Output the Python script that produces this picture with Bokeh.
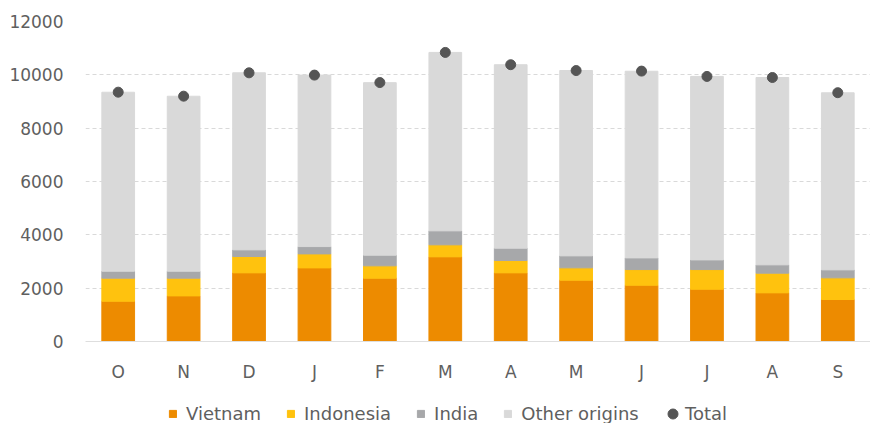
from bokeh.plotting import figure
from bokeh.layouts import column
from bokeh.models import ColumnDataSource, Range1d, FixedTicker, Legend, LegendItem
from bokeh.embed import file_html
from bokeh.resources import INLINE

months = ["O", "N", "D", "J", "F", "M", "A", "M", "J", "J", "A", "S"]
vietnam = [1510, 1710, 2575, 2760, 2375, 3175, 2575, 2300, 2110, 1960, 1825, 1575]
indonesia = [865, 665, 612, 525, 462, 450, 462, 462, 588, 738, 737, 812]
india = [262, 262, 250, 275, 400, 525, 463, 450, 437, 362, 313, 300]
other = [6710, 6560, 6640, 6430, 6470, 6690, 6880, 6950, 7000, 6880, 7025, 6640]
total = [9350, 9200, 10075, 9990, 9710, 10840, 10380, 10160, 10140, 9940, 9900, 9330]
y_ticks = [0, 2000, 4000, 6000, 8000, 10000, 12000]

series = ["vietnam", "indonesia", "india", "other"]
labels = ["Vietnam", "Indonesia", "India", "Other origins"]
colors = ["#ED8B00", "#FFC20E", "#A7A8AA", "#D9D9D9"]
dot_color = "#555555"
FONT = "DejaVu Sans"
TXT = "#5f5f5f"

xs = list(range(len(months)))
src = ColumnDataSource(dict(x=xs, vietnam=vietnam, indonesia=indonesia, india=india,
                            other=other, total=total))

p = figure(width=870, height=390, x_range=Range1d(-0.5, len(months) - 0.5),
           y_range=Range1d(0, 12000), output_backend="svg", toolbar_location=None,
           min_border_left=85, min_border_right=0, min_border_top=21, min_border_bottom=49)

bars = p.vbar_stack(series, x="x", width=0.5, color=colors, source=src)
dots = p.scatter(x="x", y="total", size=10, color=dot_color, source=src)

p.outline_line_color = None
p.xgrid.grid_line_color = None
p.ygrid.grid_line_color = "#d9d9d9"
p.ygrid.grid_line_dash = "4 3"
p.ygrid.ticker = FixedTicker(ticks=y_ticks)

p.xaxis.ticker = FixedTicker(ticks=xs)
p.xaxis.major_label_overrides = {i: m for i, m in enumerate(months)}
p.xaxis.major_tick_line_color = None
p.xaxis.minor_tick_line_color = None
p.xaxis.axis_line_color = "#dedede"
p.xaxis.major_label_standoff = 14

p.yaxis.ticker = FixedTicker(ticks=y_ticks)
p.yaxis.major_tick_line_color = None
p.yaxis.minor_tick_line_color = None
p.yaxis.axis_line_color = None
p.yaxis.major_label_standoff = 16

for ax in (p.xaxis[0], p.yaxis[0]):
    ax.major_label_text_font = FONT
    ax.major_label_text_font_size = "17px"
    ax.major_label_text_color = TXT

# legend strip below the chart (its frame is aligned with the chart frame: x from 85 to 870)
lg = figure(width=870, height=33, x_range=Range1d(0, 1), y_range=Range1d(0, 1),
            output_backend="svg", toolbar_location=None, x_axis_type=None, y_axis_type=None,
            min_border=0, min_border_left=85, min_border_right=0, min_border_top=0,
            min_border_bottom=0)
lg.outline_line_color = None
lg.grid.visible = False
# stand-in renderers (kept outside the visible range) so the legend can draw its swatches
dummy_bars = [lg.vbar(x=[5], top=[5], bottom=[4], width=0.5, color=c) for c in colors]
dummy_dot = lg.scatter(x=[5], y=[5], size=10, color=dot_color)

leg1 = Legend(items=[LegendItem(label=l, renderers=[r]) for l, r in zip(labels, dummy_bars)],
              orientation="horizontal", location=(83, -1), glyph_width=9, glyph_height=9,
              label_standoff=9, spacing=25, padding=0, margin=0,
              border_line_color=None, background_fill_alpha=0,
              label_text_font=FONT, label_text_font_size="18px", label_text_color=TXT)
leg2 = Legend(items=[LegendItem(label="Total", renderers=[dummy_dot])],
              orientation="horizontal", location=(575, -3), glyph_width=25, glyph_height=25,
              label_standoff=-2, padding=0, margin=0,
              border_line_color=None, background_fill_alpha=0,
              label_text_font=FONT, label_text_font_size="18px", label_text_color=TXT)
lg.add_layout(leg1, "center")
lg.add_layout(leg2, "center")

layout = column(p, lg, spacing=0)
open("out.html", "w").write(file_html(layout, INLINE))
